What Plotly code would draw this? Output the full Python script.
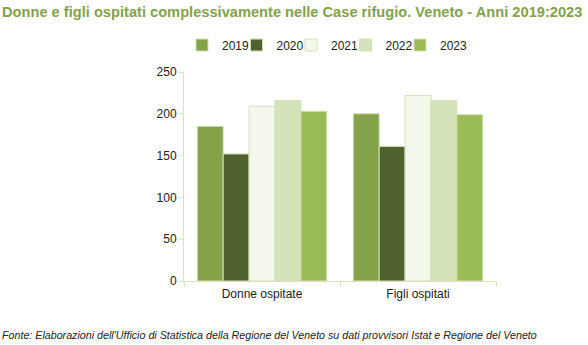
import plotly.graph_objects as go

categories = ["Donne ospitate", "Figli ospitati"]
years = ["2019", "2020", "2021", "2022", "2023"]
v2019 = [185, 200]
v2020 = [152, 161]
v2021 = [209, 222]
v2022 = [216, 216]
v2023 = [203, 199]
series = [v2019, v2020, v2021, v2022, v2023]
colors = ["#84a24a", "#4e612e", "#f3f7ec", "#d4e3b9", "#9bbb59"]

fig = go.Figure()
for y, vals, c in zip(years, series, colors):
    fig.add_trace(go.Bar(
        x=categories, y=vals, name=y,
        marker=dict(color=c, line=dict(color="#d2e2b4", width=1)),
    ))
# invisible spacer entry so the last legend label is not clipped
fig.add_trace(go.Scatter(x=[None], y=[None], mode="markers", name=" ",
                         marker=dict(color="rgba(0,0,0,0)"), hoverinfo="skip"))

font = "Liberation Sans, Arial, sans-serif"
fig.update_layout(
    width=588, height=345,
    margin=dict(l=184, r=92, t=72, b=64),
    paper_bgcolor="white", plot_bgcolor="white",
    barmode="group", bargap=0.17, bargroupgap=0,
    font=dict(family=font, size=12, color="#222222"),
    showlegend=True,
    legend=dict(orientation="h", x=-0.0064, xanchor="left", y=1.129, yanchor="middle",
                font=dict(size=12, color="#222222"), traceorder="normal",
                entrywidth=9.5, entrywidthmode="pixels", itemwidth=30),
    xaxis=dict(showline=True, linecolor="#d7e4bd", linewidth=1,
               ticks="outside", ticklen=5, tickcolor="#d7e4bd",
               tickson="boundaries", showgrid=False, ticklabelstandoff=2),
    yaxis=dict(range=[0, 250], dtick=50, showline=True, linecolor="#d7e4bd",
               linewidth=1, ticks="outside", ticklen=4, tickcolor="#d7e4bd",
               showgrid=False, zeroline=False),
)
fig.add_annotation(text="<b>Donne e figli ospitati complessivamente nelle Case rifugio. Veneto - Anni 2019:2023</b>",
                   xref="paper", yref="paper", x=-184/312, y=1 + (72-12)/209,
                   xanchor="left", yanchor="middle", showarrow=False,
                   font=dict(size=14.65, color="#84a24a", family=font))
fig.add_annotation(text="<i>Fonte: Elaborazioni dell'Ufficio di Statistica della Regione del Veneto su dati provvisori Istat e Regione del Veneto</i>",
                   xref="paper", yref="paper", x=-184/312, y=-(335-281)/209,
                   xanchor="left", yanchor="middle", showarrow=False,
                   font=dict(size=10.7, color="#222222", family=font))
fig.write_html("out.html")
